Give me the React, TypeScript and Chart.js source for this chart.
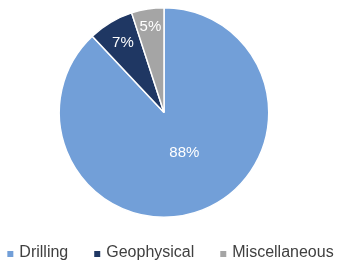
import React, { useEffect, useRef } from "react";
import { Chart, registerables } from "chart.js";

Chart.register(...registerables);

const categories = ["Drilling", "Geophysical", "Miscellaneous"];
const shares = [88, 7, 5];
const sliceColors = ["#729fd8", "#1f3763", "#a5a5a5"];
// radial position of each percentage label, as a fraction of the radius
const labelRadius = [0.434, 0.77, 0.83];
const labelAngleShift = [-5, 0, 0];

const FONT = "'Liberation Sans', Arial, sans-serif";

const pctLabels = {
  id: "pctLabels",
  afterDatasetsDraw(chart: any) {
    const ctx = chart.ctx;
    const meta = chart.getDatasetMeta(0);
    ctx.save();
    ctx.fillStyle = "#ffffff";
    ctx.font = "15px " + FONT;
    ctx.textAlign = "center";
    ctx.textBaseline = "middle";
    meta.data.forEach((arc: any, i: number) => {
      const p = arc.getProps(["x", "y", "startAngle", "endAngle", "outerRadius"], true);
      const mid = (p.startAngle + p.endAngle) / 2 + (labelAngleShift[i] * Math.PI) / 180;
      const r = p.outerRadius * labelRadius[i];
      const x = p.x + Math.cos(mid) * r;
      const y = p.y + Math.sin(mid) * r;
      ctx.fillText(shares[i] + "%", x, y);
    });
    ctx.restore();
  },
};

const bottomLegend = {
  id: "bottomLegend",
  afterDraw(chart: any) {
    const ctx = chart.ctx;
    const box = 6;
    const boxGap = 6;
    const itemGap = 26;
    ctx.save();
    ctx.font = "16px " + FONT;
    ctx.textBaseline = "middle";
    ctx.textAlign = "left";
    const widths = categories.map((c) => box + boxGap + ctx.measureText(c).width);
    const total = widths.reduce((a, b) => a + b, 0) + itemGap * (categories.length - 1);
    let x = (chart.width - total) / 2;
    const y = 253;
    categories.forEach((c, i) => {
      ctx.fillStyle = sliceColors[i];
      ctx.fillRect(x, y - box / 2 + 1, box, box);
      ctx.fillStyle = "#404040";
      ctx.fillText(c, x + box + boxGap, y);
      x += widths[i] + itemGap;
    });
    ctx.restore();
  },
};

export default function App() {
  const ref = useRef<HTMLCanvasElement>(null);
  useEffect(() => {
    if (!ref.current) return;
    const chart = new Chart(ref.current, {
      type: "pie",
      data: {
        labels: categories,
        datasets: [
          {
            data: shares,
            backgroundColor: sliceColors,
            borderColor: "#ffffff",
            borderWidth: 1.5,
          },
        ],
      },
      options: {
        animation: false,
        responsive: false,
        layout: { padding: { top: 7, bottom: 42, left: 0, right: 13 } },
        plugins: {
          tooltip: { enabled: false },
          legend: { display: false },
        },
      },
      plugins: [pctLabels, bottomLegend],
    });
    return () => chart.destroy();
  }, []);
  return (
    <div style={{ position: "absolute", left: 0, top: 0, width: 341, height: 260, background: "#fff" }}>
      <canvas ref={ref} width={341} height={260} style={{ width: 341, height: 260 }} />
    </div>
  );
}
